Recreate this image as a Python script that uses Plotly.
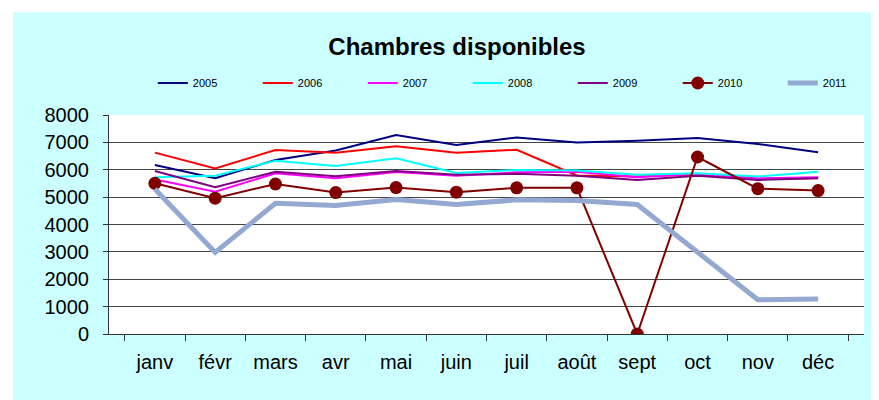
import plotly.graph_objects as go

months = ['janv', 'févr', 'mars', 'avr', 'mai', 'juin',
          'juil', 'août', 'sept', 'oct', 'nov', 'déc']

y2005 = [6175, 5690, 6360, 6700, 7270, 6905, 7180, 7000, 7060, 7160, 6940, 6640]
y2006 = [6625, 6050, 6720, 6625, 6855, 6625, 6730, 5790, 5750, 5830, 5650, 5700]
y2007 = [5640, 5200, 5870, 5690, 5920, 5785, 5905, 5930, 5725, 5850, 5690, 5725]
y2008 = [5725, 5785, 6330, 6140, 6420, 5885, 5995, 5970, 5820, 5870, 5750, 5930]
y2009 = [5955, 5360, 5930, 5760, 5955, 5820, 5850, 5785, 5630, 5785, 5630, 5690]
y2010 = [5505, 4960, 5480, 5165, 5350, 5180, 5340, 5340, 0, 6465, 5310, 5240]
y2011 = [5300, 2980, 4775, 4690, 4910, 4730, 4900, 4875, 4730, 2970, 1250, 1275]

series = [
    ('2005', y2005, '#000080', 2),
    ('2006', y2006, '#ff0000', 2),
    ('2007', y2007, '#ff00ff', 2),
    ('2008', y2008, '#00ffff', 2),
    ('2009', y2009, '#800080', 2),
]

font = 'Arial, Liberation Sans, sans-serif'

fig = go.Figure()
for name, vals, color, width in series:
    fig.add_trace(go.Scatter(x=months, y=vals, name=name, mode='lines',
                             line=dict(color=color, width=width)))

fig.add_trace(go.Scatter(x=months, y=y2010, name='2010', mode='lines+markers',
                         line=dict(color='#800000', width=2),
                         marker=dict(color='#800000', size=13)))
fig.add_trace(go.Scatter(x=months, y=y2011, name='2011', mode='lines',
                         line=dict(color='#93a9d1', width=5)))

# cyan chart area, white plot area on top of it
fig.add_shape(type='rect', xref='paper', yref='paper', layer='below',
              x0=-0.1272, x1=1.03, y0=-0.35, y1=1.469,
              fillcolor='#ccffff', line=dict(width=0))
fig.add_shape(type='rect', xref='paper', yref='paper', layer='below',
              x0=0, x1=1, y0=0, y1=1,
              fillcolor='white', line=dict(width=0))

# page body keeps its 8px margin, so the figure is 8px smaller
fig.update_layout(
    width=871, height=392,
    margin=dict(l=101, r=15, t=107, b=66, autoexpand=False),
    paper_bgcolor='white',
    plot_bgcolor='white',
    font=dict(family=font, color='black'),
    title=dict(text='<b>Chambres disponibles</b>', x=0.5155, xref='container',
               xanchor='center', y=0.9005, yanchor='middle',
               font=dict(size=24, family=font, color='black')),
    legend=dict(orientation='h', x=0.058, xanchor='left',
                y=1 - 75 / 392, yref='container', yanchor='middle',
                entrywidth=60, entrywidthmode='pixels',
                font=dict(size=11, family=font), bgcolor='rgba(0,0,0,0)'),
    showlegend=True,
)

fig.update_xaxes(
    type='category', tickson='boundaries', ticks='outside', ticklen=6,
    tickcolor='#333', showline=True, linecolor='#333', linewidth=1,
    showgrid=False, tickfont=dict(size=20, family=font),
    ticklabelstandoff=10,
)
fig.update_yaxes(
    range=[0, 8000], dtick=1000, ticks='outside', ticklen=5, tickcolor='#333',
    showline=True, linecolor='#333', linewidth=1,
    showgrid=True, gridcolor='#444', gridwidth=1, zeroline=False,
    tickfont=dict(size=20, family=font), ticklabelstandoff=10,
)

fig.write_html('out.html')
